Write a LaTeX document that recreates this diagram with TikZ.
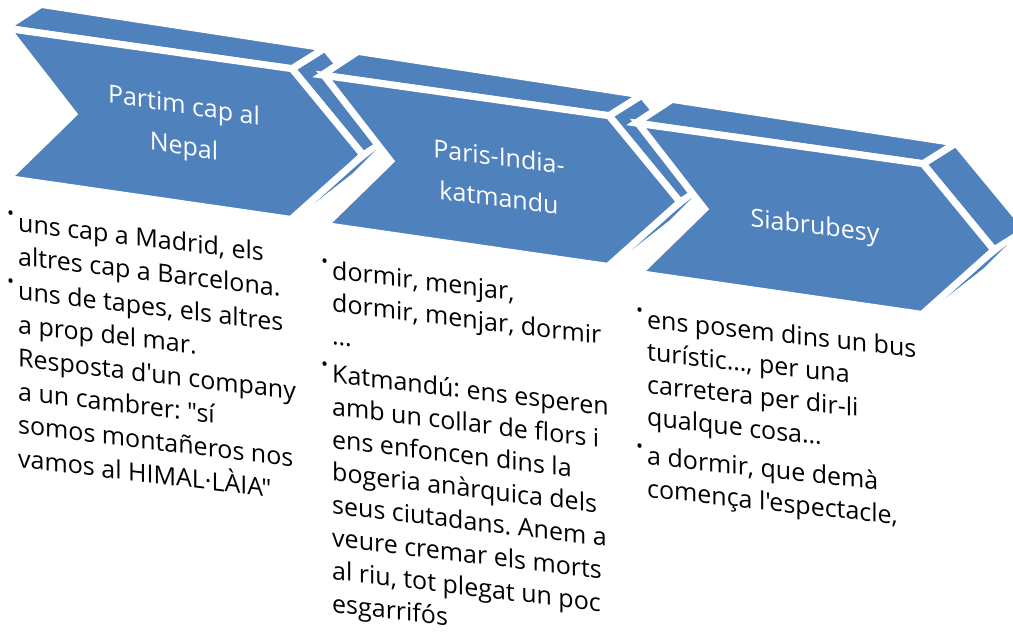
\documentclass[tikz,border=0pt]{standalone}
\usepackage{fontspec}
\setmainfont{Open Sans}[Ligatures=TeXOff]
\definecolor{chevblue}{HTML}{4F81BD}
\frenchspacing

% small raised bullet, hanging left of the text
\newcommand\bul{\llap{\raisebox{0.42em}{\scalebox{0.75}{\textbullet}}\hspace{4pt}}}

% one 3D chevron, placed by its front top-left corner
\newcommand\chevron[2]{%
  \begin{scope}[shift={(#1,#2)}]
    \filldraw[face] (277,35.7) -- (348,122) -- (381,101) -- (310,15) -- cycle; % side
    \fill[chevblue] (361,117) -- (337.3,140.5) -- (297,172) -- (334.7,137.5) -- cycle; % under side
    \filldraw[face] (-10,-5) -- (277,35.7) -- (310,15) -- (26,-28.6) -- cycle; % top
    \filldraw[face] (-8,-4.6) -- (277,35.7) -- (348,122) -- (276,186.4)
      -- (-7.5,145.4) -- (58.5,81) -- cycle; % front
  \end{scope}}

\begin{document}
\begin{tikzpicture}[x=1pt, y=-1pt,
    face/.style={fill=chevblue, draw=white, line width=7pt},
    headtext/.style={text=white, align=center, inner sep=0,
      font=\fontsize{25}{41}\selectfont},
    bodytext/.style={anchor=base west, align=left, inner sep=0}]
  \useasboundingbox (0,0) rectangle (1013,632);
  \clip (0,0) rectangle (1013,632);

  % chevrons
  \chevron{15}{33}
  \chevron{332}{80}
  \chevron{646}{128}

  % titles
  \begin{scope}[shift={(184,128)}, yslant=-0.15, transform shape]
    \node[headtext] (head1) {Partim cap al\\Nepal};
  \end{scope}
  \begin{scope}[shift={(499,177)}, yslant=-0.13, transform shape]
    \node[headtext] (head2) {Paris-India-\\katmandu};
  \end{scope}
  \begin{scope}[shift={(815,228)}, yslant=-0.12, transform shape]
    \node[headtext] (head3) {Siabrubesy};
  \end{scope}

  % texts below (placed by the baseline of their last line)
  \begin{scope}[shift={(18,467)}, yslant=-0.12, transform shape]
    \node[bodytext, font=\fontsize{25}{33.5}\selectfont] (body1)
      {\bul uns cap a Madrid, els\\
      altres cap a Barcelona.\\[1pt]
      \bul uns de tapes, els altres\\
      a prop del mar.\\
      Resposta d'un company\\
      a un cambrer: "sí\\
      somos montañeros nos\\
      vamos al HIMAL·LÀIA"};
  \end{scope}
  \begin{scope}[shift={(332,612)}, yslant=-0.12, transform shape]
    \node[bodytext, font=\fontsize{25}{32.8}\selectfont] (body2)
      {\bul dormir, menjar,\\
      dormir, menjar, dormir\\
      …\\[5pt]
      \bul Katmandú: ens esperen\\
      amb un collar de flors i\\
      ens enfoncen dins la\\
      bogeria anàrquica dels\\
      seus ciutadans. Anem a\\
      veure cremar els morts\\
      al riu, tot plegat un poc\\
      esgarrifós};
  \end{scope}
  \begin{scope}[shift={(647,497)}, yslant=-0.11, transform shape]
    \node[bodytext, font=\fontsize{25}{32.6}\selectfont] (body3)
      {\bul ens posem dins un bus\\
      turístic…, per una\\
      carretera per dir-li\\
      qualque cosa…\\[6pt]
      \bul a dormir, que demà\\
      comença l'espectacle,};
  \end{scope}
\end{tikzpicture}
\end{document}
